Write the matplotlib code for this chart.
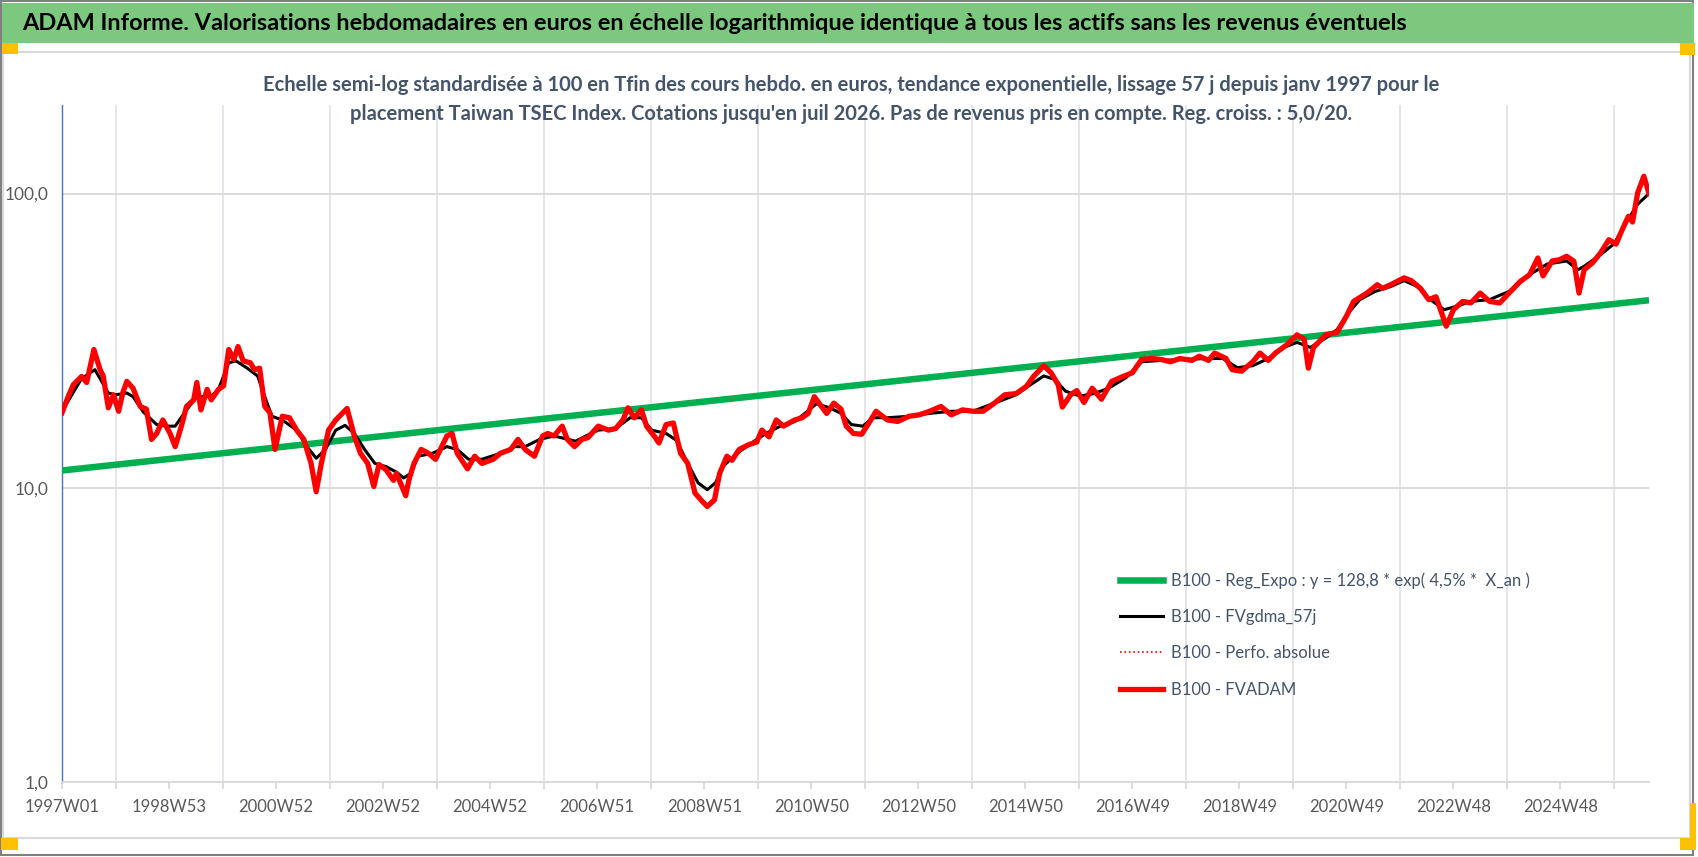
import numpy as np
import matplotlib.pyplot as plt
from matplotlib.patches import Rectangle
from matplotlib.lines import Line2D
from matplotlib.ticker import NullLocator, FixedLocator

W, H = 1698, 857

# week index (0 = 1997W01) and values
red_weeks = [0, 6, 11, 19, 24, 31, 37, 40, 45, 50, 55, 59, 63, 69, 76, 82, 87, 92, 98, 105,
             110, 116, 121, 128, 131, 135, 141, 145, 152, 157, 162, 167, 171, 176, 183, 187, 192, 197, 202, 207,
             214, 221, 228, 235, 242, 247, 252, 259, 266, 273, 277, 284, 290, 297, 303, 308, 315, 322, 325, 334,
             337, 342, 349, 356, 363, 374, 379, 384, 394, 401, 408, 419, 426, 436, 443, 450, 459, 467, 472, 478,
             486, 491, 498, 505, 511, 521, 531, 538, 545, 550, 556, 563, 568, 576, 580, 587, 594, 601, 608, 615,
             622, 627, 634, 639, 646, 651, 658, 667, 675, 680, 687, 694, 701, 712, 719, 725, 731, 736, 743, 750,
             757, 762, 769, 777, 784, 791, 802, 812, 823, 833, 843, 854, 864, 875, 885, 895, 906, 916, 927, 937,
             944, 954, 961, 968, 972, 980, 986, 993, 1001, 1010, 1020, 1031, 1040, 1049, 1059, 1068, 1077, 1086, 1098, 1105,
             1114, 1120, 1131, 1137, 1146, 1157, 1164, 1172, 1179, 1190, 1200, 1207, 1211, 1216, 1228, 1239, 1248, 1255, 1268, 1278,
             1283, 1291, 1304, 1311, 1320, 1328, 1335, 1345, 1352, 1361, 1369, 1378, 1387, 1397, 1406, 1417, 1426, 1434, 1439, 1448,
             1455, 1462, 1469, 1474, 1479, 1487, 1495, 1503, 1510, 1516, 1522, 1526, 1531, 1537, 1542]
red_vals = [18.0, 20.4, 22.4, 23.9, 22.8, 29.5, 25.2, 24.0, 18.7, 20.7, 18.2, 21.0, 23.0, 21.8, 18.9, 18.5, 14.6, 15.3, 17.0, 15.3,
            13.8, 16.2, 18.9, 19.9, 22.8, 18.4, 21.6, 19.9, 21.6, 22.2, 29.5, 27.3, 30.2, 27.0, 26.6, 25.2, 25.5, 18.9, 18.0, 13.5,
            17.5, 17.3, 15.7, 14.6, 12.1, 9.7, 12.1, 15.7, 17.0, 18.0, 18.6, 15.0, 13.1, 12.1, 10.1, 12.0, 11.5, 10.6, 11.2, 9.4,
            10.6, 12.1, 13.5, 13.1, 12.5, 15.0, 15.3, 13.1, 11.6, 12.8, 12.1, 12.5, 13.1, 13.5, 14.6, 13.5, 12.8, 15.0, 15.3, 15.0,
            16.2, 14.6, 13.8, 14.6, 14.8, 16.2, 15.7, 15.9, 17.0, 18.7, 17.3, 18.4, 16.2, 14.9, 14.2, 16.4, 16.6, 13.1, 12.1, 9.6,
            9.0, 8.64, 9.1, 11.2, 12.8, 12.4, 13.5, 14.0, 14.3, 15.7, 14.9, 17.0, 16.2, 17.0, 17.3, 17.9, 20.4, 19.3, 17.9, 19.4,
            18.5, 16.2, 15.3, 15.2, 16.6, 18.2, 17.0, 16.8, 17.5, 17.7, 18.2, 18.9, 17.7, 18.4, 18.2, 18.2, 19.4, 20.7, 20.9, 22.1,
            23.9, 26.0, 24.6, 22.4, 18.8, 20.7, 21.4, 19.5, 21.8, 20.0, 23.0, 23.9, 24.6, 27.3, 27.5, 27.3, 26.8, 27.5, 27.1, 28.0,
            27.1, 28.7, 27.5, 25.2, 24.9, 26.8, 28.7, 27.1, 28.7, 30.6, 33.1, 32.0, 25.5, 30.0, 33.1, 33.8, 38.3, 43.0, 45.9, 49.0,
            47.6, 49.0, 51.7, 50.6, 47.6, 43.6, 44.6, 35.4, 40.3, 43.0, 42.5, 45.9, 43.0, 42.5, 45.9, 50.3, 53.0, 60.4, 52.5, 59.0,
            59.6, 61.2, 58.9, 45.9, 55.1, 58.1, 62.9, 69.7, 67.3, 75.4, 83.7, 80.0, 100.5, 114.5, 100.0]

black_weeks = [0, 19, 32, 45, 52, 63, 69, 79, 92, 102, 110, 121, 131, 145, 152, 162, 169, 180, 190, 197,
               204, 214, 228, 238, 247, 256, 266, 275, 284, 294, 304, 315, 325, 332, 339, 346, 360, 374, 384, 395,
               408, 426, 440, 450, 464, 478, 492, 499, 509, 521, 538, 552, 563, 573, 587, 597, 608, 618, 627, 635,
               642, 656, 670, 684, 698, 712, 726, 733, 746, 757, 767, 778, 788, 802, 823, 843, 864, 885, 906, 927,
               941, 954, 965, 975, 989, 1003, 1017, 1034, 1049, 1068, 1090, 1112, 1128, 1142, 1157, 1172, 1187, 1200, 1213, 1228,
               1239, 1250, 1261, 1276, 1291, 1304, 1317, 1328, 1343, 1354, 1369, 1387, 1406, 1424, 1443, 1462, 1473, 1479, 1495, 1508,
               1521, 1531, 1542]
black_vals = [18.2, 23.5, 25.2, 21.0, 20.7, 21.0, 20.4, 18.1, 16.4, 16.2, 16.2, 18.4, 20.4, 20.4, 21.6, 26.6, 27.0, 25.5, 24.0, 20.4,
              17.5, 17.0, 15.7, 13.8, 12.6, 13.5, 15.7, 16.3, 15.3, 13.5, 12.1, 11.8, 11.3, 10.8, 11.2, 12.8, 13.1, 13.8, 13.5, 12.5,
              12.5, 13.1, 13.8, 13.8, 14.6, 15.0, 14.6, 14.4, 15.0, 15.7, 15.9, 17.3, 17.3, 15.7, 15.3, 14.5, 12.1, 10.4, 9.85, 10.4,
              11.8, 13.1, 14.2, 15.3, 16.2, 16.8, 18.4, 19.3, 18.7, 17.9, 16.4, 16.2, 17.3, 17.3, 17.5, 17.9, 18.2, 18.2, 19.4, 20.7,
              22.4, 24.0, 23.3, 21.3, 20.5, 20.9, 21.8, 23.7, 26.8, 27.1, 27.3, 27.5, 27.5, 25.6, 26.0, 27.5, 30.0, 31.2, 30.0, 32.3,
              34.5, 39.3, 43.6, 46.5, 48.3, 50.6, 48.3, 44.0, 40.3, 41.3, 43.0, 43.6, 46.5, 52.5, 57.6, 59.0, 55.1, 56.6, 62.0, 67.5,
              81.0, 92.0, 100.0]

reg_weeks = [0, 1542]
reg_vals = [11.45, 43.4]

tick_labels = ['1997W01', '1998W53', '2000W52', '2002W52', '2004W52', '2006W51', '2008W51', '2010W50',
               '2012W50', '2014W50', '2016W49', '2018W49', '2020W49', '2022W48', '2024W48']

legend_labels = ['B100 - Reg_Expo : y = 128,8 * exp( 4,5% *  X_an )', 'B100 - FVgdma_57j',
                 'B100 - Perfo. absolue', 'B100 - FVADAM']

plt.rcParams['font.family'] = ['Lato', 'DejaVu Sans']


def fx(x):
    return x / W


def fy(y):
    return 1 - y / H


fig = plt.figure(figsize=(W / 100, H / 100), dpi=100)
fig.patch.set_facecolor('white')

# frame, title bar, corner handles
fig.add_artist(Rectangle((fx(1), fy(855)), fx(1692), 854 / H, transform=fig.transFigure,
                         fill=False, edgecolor='#808080', lw=1.5))
fig.add_artist(Rectangle((fx(3), fy(838)), fx(1687), 786 / H, transform=fig.transFigure,
                         fill=False, edgecolor='#D9D9D9', lw=1.5))
fig.add_artist(Rectangle((fx(2), fy(43)), fx(1692), 40 / H, transform=fig.transFigure,
                         facecolor='#7DC87F', edgecolor='none'))
for (x0, y0, w, h) in [(2, 43, 16, 11), (1680, 43, 15, 12), (1, 838, 17, 12), (1680, 838, 16, 12), (1690, 803, 6, 40)]:
    fig.add_artist(Rectangle((fx(x0), fy(y0 + h)), w / W, h / H, transform=fig.transFigure,
                             facecolor='#FFC000', edgecolor='none'))

fig.text(fx(22), fy(23), 'ADAM Informe. Valorisations hebdomadaires en euros en échelle logarithmique '
         'identique à tous les actifs sans les revenus éventuels',
         fontsize=16.9, fontweight='bold', color='black', va='center', ha='left')
fig.text(fx(851), fy(85), 'Echelle semi-log standardisée à 100 en Tfin des cours hebdo. en euros, tendance '
         'exponentielle, lissage 57 j depuis janv 1997 pour le', fontsize=14.5, fontweight='bold',
         color='#44546A', ha='center', va='center')
fig.text(fx(851), fy(114), "placement Taiwan TSEC Index. Cotations jusqu'en juil 2026. Pas de revenus pris en "
         "compte. Reg. croiss. : 5,0/20.", fontsize=14.5, fontweight='bold',
         color='#44546A', ha='center', va='center')

ax = fig.add_axes([fx(62), fy(782), (1649 - 62) / W, (782 - 105) / H])
ax.set_facecolor('white')

ax.plot(reg_weeks, reg_vals, color='#00B050', lw=4.7, solid_capstyle='butt', zorder=3)
ax.plot(black_weeks, black_vals, color='black', lw=2.2, zorder=4)
ax.plot(red_weeks, red_vals, color='red', lw=1.2, ls=':', zorder=4)
ax.plot(red_weeks, red_vals, color='red', lw=3.8, zorder=5, solid_joinstyle='round')

ax.set_yscale('log')
ax.set_ylim(1, 200)
ax.set_xlim(0, 1542)
ax.yaxis.set_major_locator(FixedLocator([1, 10, 100]))
ax.yaxis.set_minor_locator(NullLocator())
ax.set_yticklabels(['1,0', '10,0', '100,0'])

ax.xaxis.set_major_locator(FixedLocator(list(range(0, 1457, 104))))
ax.xaxis.set_minor_locator(FixedLocator(list(range(0, 1543, 52))))
ax.set_xticklabels(tick_labels)

ax.grid(True, which='major', axis='y', color='#D9D9D9', lw=1.3)
ax.grid(True, which='minor', axis='x', color='#E1E5EB', lw=1.3)
ax.tick_params(axis='x', which='both', direction='out', length=5, color='#D9D9D9', width=1.3,
               labelsize=12, labelcolor='#595959', pad=7)
ax.tick_params(axis='y', which='both', length=0, labelsize=12.5, labelcolor='#595959', pad=10)

for s in ['top', 'right']:
    ax.spines[s].set_visible(False)
ax.spines['left'].set_color('#4472C4')
ax.spines['left'].set_linewidth(1.0)
ax.spines['bottom'].set_color('#D9D9D9')
ax.spines['bottom'].set_linewidth(1.3)

handles = [Line2D([], [], color='#00B050', lw=4.7),
           Line2D([], [], color='black', lw=2.2),
           Line2D([], [], color='red', lw=1.2, ls=':'),
           Line2D([], [], color='red', lw=3.8)]
leg = fig.legend(handles, legend_labels, loc='upper left', bbox_to_anchor=(fx(1120), fy(572)),
                 frameon=False, fontsize=12, handlelength=2.6, handletextpad=0.45,
                 labelspacing=1.22, borderpad=0, borderaxespad=0)
for t in leg.get_texts():
    t.set_color('#44546A')

fig.savefig('out.png', dpi=100, facecolor='white')
